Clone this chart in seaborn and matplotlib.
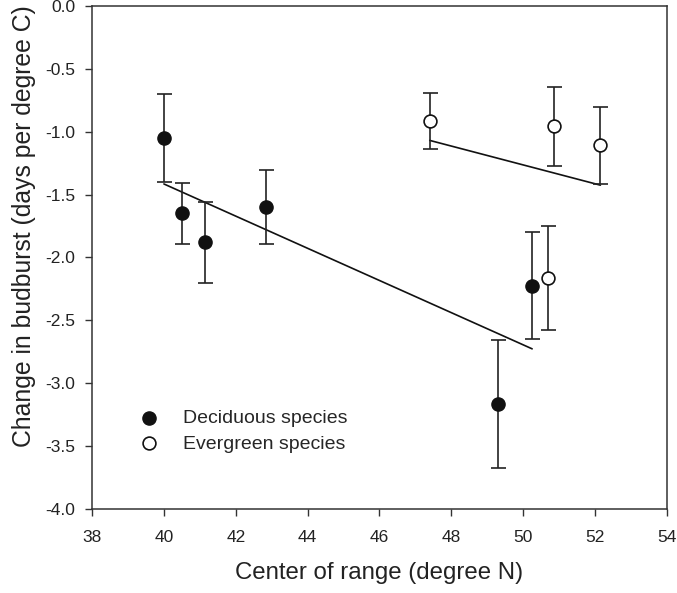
"""
Change in budburst vs centre of species range, deciduous vs evergreen.
Saves out.png
"""

import numpy as np
import pandas as pd
import matplotlib
matplotlib.use("Agg")
import matplotlib.pyplot as plt
import seaborn as sns

# Deciduous species (filled circles)
dec_lat = [40.0, 40.5, 41.15, 42.85, 49.3, 50.25]
dec_change = [-1.05, -1.65, -1.88, -1.60, -3.165, -2.225]
dec_err = [0.35, 0.245, 0.32, 0.295, 0.51, 0.425]

# Evergreen species (open circles)
eve_lat = [47.4, 50.85, 52.15, 50.7]
eve_change = [-0.913, -0.956, -1.108, -2.162]
eve_err = [0.224, 0.314, 0.308, 0.412]

x_ticks = [38, 40, 42, 44, 46, 48, 50, 52, 54]
y_ticks = [-4.0, -3.5, -3.0, -2.5, -2.0, -1.5, -1.0, -0.5, 0.0]


def main():
    sns.set_style("ticks")
    plt.rcParams["font.family"] = ["Liberation Sans", "DejaVu Sans"]

    dec = pd.DataFrame({"lat": dec_lat, "change": dec_change, "err": dec_err})
    eve = pd.DataFrame({"lat": eve_lat, "change": eve_change, "err": eve_err})

    fig, ax = plt.subplots(figsize=(6.77, 5.93), dpi=100)
    fig.subplots_adjust(left=0.136, right=0.985, top=0.990, bottom=0.1417)

    # regression lines (OLS over each group, drawn over data range)
    for d in (dec, eve):
        sns.regplot(data=d, x="lat", y="change", ax=ax, scatter=False,
                    ci=None, truncate=True,
                    line_kws={"color": "#111111", "lw": 1.2, "zorder": 2})

    # error bars
    for d in (dec, eve):
        ax.errorbar(d["lat"], d["change"], yerr=d["err"], fmt="none",
                    ecolor="#222222", elinewidth=1.2, capsize=5.4,
                    capthick=1.2, zorder=3)

    sns.scatterplot(data=dec, x="lat", y="change", ax=ax, s=90,
                    color="#111111", edgecolor="#111111", linewidth=1.0,
                    label="Deciduous species", zorder=4)
    sns.scatterplot(data=eve, x="lat", y="change", ax=ax, s=85,
                    color="white", edgecolor="#111111", linewidth=1.2,
                    label="Evergreen species", zorder=4)

    ax.set_xlim(38, 54)
    ax.set_ylim(-4.0, 0.0)
    ax.set_xticks(x_ticks)
    ax.set_yticks(y_ticks)
    ax.set_yticklabels([f"{v:.1f}" for v in y_ticks])
    ax.tick_params(direction="out", length=5, width=1.0, color="#333333",
                   labelsize=12.5, labelcolor="#222222")
    ax.tick_params(axis="x", pad=10.5)
    ax.tick_params(axis="y", pad=7)
    for sp in ax.spines.values():
        sp.set_visible(True)
        sp.set_color("#333333")
        sp.set_linewidth(1.1)

    ax.set_xlabel("Center of range (degree N)", fontsize=17.3,
                  color="#222222", labelpad=12)
    ax.set_ylabel("Change in budburst (days per degree C)", fontsize=17.8,
                  color="#222222")
    ax.yaxis.set_label_coords(-0.097, 0.563)

    ax.legend(loc="center left", bbox_to_anchor=(0.083, 0.155),
              frameon=False, fontsize=14, borderpad=0, handlelength=0.9,
              handletextpad=1.3, labelspacing=0.4, borderaxespad=0)

    plt.savefig("out.png", dpi=100)
    plt.close()


if __name__ == "__main__":
    main()
